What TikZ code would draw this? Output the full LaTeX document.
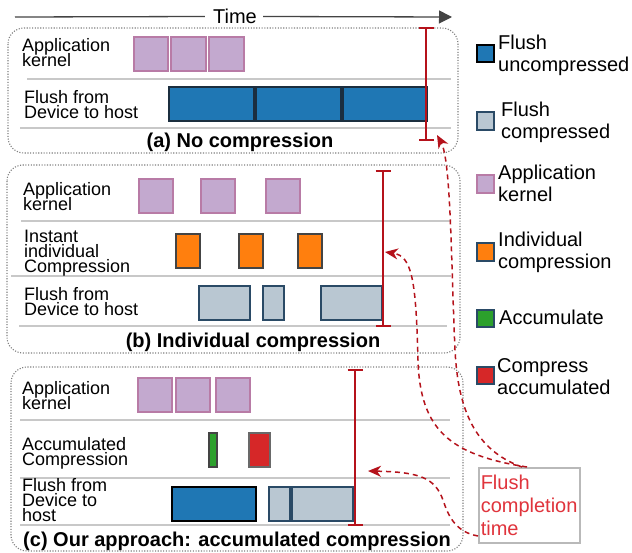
\documentclass[tikz,border=0pt]{standalone}
\usepackage{fontspec}
\setmainfont{Liberation Sans}
\usetikzlibrary{arrows.meta}
\definecolor{appfill}{HTML}{C3A9CF}
\definecolor{appdraw}{HTML}{B87BA6}
\definecolor{blufill}{HTML}{1F77B4}
\definecolor{bludraw}{HTML}{1B2E3F}
\definecolor{cmpfill}{HTML}{B9C7D2}
\definecolor{cmpdraw}{HTML}{2A4A66}
\definecolor{orgfill}{HTML}{FF7F0E}
\definecolor{grnfill}{HTML}{2CA02C}
\definecolor{redfill}{HTML}{D62728}
\definecolor{barred}{HTML}{B5121B}
\definecolor{sepgray}{HTML}{C8C8C8}
\definecolor{lblred}{HTML}{E0343C}
\definecolor{timegray}{HTML}{444444}
\newcommand{\tightls}{\lineskiplimit=-30pt\relax}
\newcommand{\lblfont}{\fontsize{18}{15}\selectfont\tightls}
\newcommand{\legfont}{\fontsize{20}{22}\selectfont\tightls}
\newcommand{\fctfont}{\fontsize{20}{23}\selectfont\tightls}
\tikzset{
  appk/.style={fill=appfill,draw=appdraw,line width=1.5pt},
  blu/.style={fill=blufill,draw=bludraw,line width=1.5pt},
  blub/.style={fill=blufill,draw=black,line width=2pt},
  cmp/.style={fill=cmpfill,draw=cmpdraw,line width=1.5pt},
  org/.style={fill=orgfill,draw=timegray,line width=1.8pt},
  grn/.style={fill=grnfill,draw=timegray,line width=1.8pt},
  rdb/.style={fill=redfill,draw=timegray!80,line width=1.8pt},
  sep/.style={draw=sepgray,line width=1.5pt},
  panel/.style={draw=gray,line width=1.1pt,dash pattern=on 1.1pt off 1.6pt,rounded corners=16pt},
  bar/.style={draw=barred,line width=2.2pt,{Bar[width=15pt]}-{Bar[width=15pt]}},
  lbl/.style={font=\lblfont,align=left,inner sep=0pt,anchor=north west},
  leg/.style={font=\legfont,align=left,inner sep=0pt,anchor=north west},
  ttl/.style={font=\fontsize{20}{22}\selectfont\bfseries,inner sep=0pt,anchor=base},
  flarr/.style={draw=barred,line width=1.5pt,dash pattern=on 5pt off 4pt,-{Stealth[length=13pt,width=11pt,inset=4pt]}}
}
\begin{document}
\begin{tikzpicture}[x=1pt,y=-1pt]
\useasboundingbox[fill=white] (0,0) rectangle (632,552);
% time axis
\node[font=\fontsize{20}{22}\selectfont,inner sep=0pt] (time) at (235,16.5) {Time};
\coordinate (tl) at (15,17);
\coordinate (tr) at (452,17);
\draw[timegray,line width=1.3pt] (tl) -- ([xshift=-8pt]time.west);
\draw[timegray,line width=1.3pt,-{Triangle[length=13pt,width=13pt]}] ([xshift=6pt]time.east) -- (tr);

% ---------- panel (a)
\draw[panel] (8,28) rectangle (458,153);
\draw[sep] (27,79) -- (451,79);
\draw[sep] (20,128) -- (451,128);
\node[lbl] (la1) at (22,38) {Application\\kernel};
\node[lbl] (la2) at (24,90) {Flush from\\Device to host};
\draw[appk] (134,37) rectangle (168,71);
\draw[appk] (171,37) rectangle (206,71);
\draw[appk] (209,37) rectangle (244,71);
\draw[blu] (169,87) rectangle (254,121);
\draw[blu] (256,87) rectangle (341,121);
\draw[blu] (343,87) rectangle (427,121);
\draw[bar] (426,27) -- (426,141);
\node[ttl] (ta) at (240,147) {(a) No compression};

% ---------- panel (b)
\draw[panel] (7,165) rectangle (460,353);
\draw[sep] (21,221) -- (451,221);
\draw[sep] (11,276) -- (451,276);
\draw[sep] (19,326) -- (447,326);
\node[lbl] (lb1) at (23,182) {Application\\kernel};
\node[lbl] (lb2) at (24,230) {Instant\\individual\\Compression};
\node[lbl] (lb3) at (24,287) {Flush from\\Device to host};
\draw[appk] (139,179) rectangle (173,213);
\draw[appk] (201,179) rectangle (235,213);
\draw[appk] (266,179) rectangle (300,213);
\draw[org] (176,234) rectangle (200,268);
\draw[org] (239,234) rectangle (263,268);
\draw[org] (298,234) rectangle (322,268);
\draw[cmp] (199,286) rectangle (250,320);
\draw[cmp] (263,286) rectangle (284,320);
\draw[cmp] (321,286) rectangle (382,320);
\draw[bar] (383,170) -- (383,327);
\node[ttl] (tb) at (253,347) {(b) Individual compression};

% ---------- panel (c)
\draw[panel] (11,367) rectangle (463,551);
\draw[sep] (20,420) -- (450,420);
\draw[sep] (20,478) -- (450,478);
\draw[sep] (20,525) -- (450,525);
\node[lbl] (lc1) at (22,381) {Application\\kernel};
\node[lbl] (lc2) at (22,437) {Accumulated\\Compression};
\node[lbl] (lc3) at (22,478) {Flush from\\Device to\\host};
\draw[appk] (138,378) rectangle (172,412);
\draw[appk] (176,378) rectangle (210,412);
\draw[appk] (216,378) rectangle (250,412);
\draw[grn] (209,433) rectangle (217,467);
\draw[rdb] (249,433) rectangle (270,467);
\draw[blub] (172,487) rectangle (256,521);
\draw[cmp] (269,487) rectangle (290,521);
\draw[cmp] (292,487) rectangle (353,521);
\draw[bar] (355,369) -- (355,526);
\node[ttl] (tc) at (237,546) {(c) Our approach: accumulated compression};

% ---------- legend
\draw[blub,line width=1.8pt] (477,45) rectangle (494,62);
\node[leg] (g1) at (498,35) {Flush\\uncompressed};
\draw[cmp] (477,112) rectangle (494,130);
\node[leg] (g2) at (501,102) {Flush\\compressed};
\draw[appk] (477,175) rectangle (494,193);
\node[leg] (g3) at (498,165) {Application\\kernel};
\draw[cmp,fill=orgfill] (477,243) rectangle (494,261);
\node[leg] (g4) at (498,232) {Individual\\compression};
\draw[cmp,fill=grnfill] (477,310) rectangle (494,327);
\node[leg] (g5) at (499,310) {Accumulate};
\draw[cmp,fill=redfill] (477,367) rectangle (494,384);
\node[leg] (g6) at (497,358) {Compress\\accumulated};

% ---------- flush completion label and arrows
\node[draw=gray!55,line width=1.5pt,anchor=north west,minimum width=101pt,minimum height=75pt,
      text width=97pt,inner xsep=2pt,inner ysep=0pt,align=left,text=lblred,
      font=\fctfont] (fct) at (478,467) {Flush\\completion\\time};
\coordinate (tipa) at (437,135);
\coordinate (tipb) at (385,252);
\coordinate (tipc) at (368,471);
\draw[flarr] ([xshift=44pt]fct.north west) .. controls (475,450) and (458,410) .. (455,350)
      .. controls (451,260) and (451,160) .. (tipa);
\draw[flarr] ([xshift=49pt]fct.north west) .. controls (450,455) and (420,430) .. (418,360)
      .. controls (416,280) and (412,256) .. (tipb);
\draw[flarr] ([yshift=-69pt]fct.north west) .. controls (455,532) and (448,515) .. (443,500)
      .. controls (435,478) and (420,472) .. (tipc);
\end{tikzpicture}
\end{document}
